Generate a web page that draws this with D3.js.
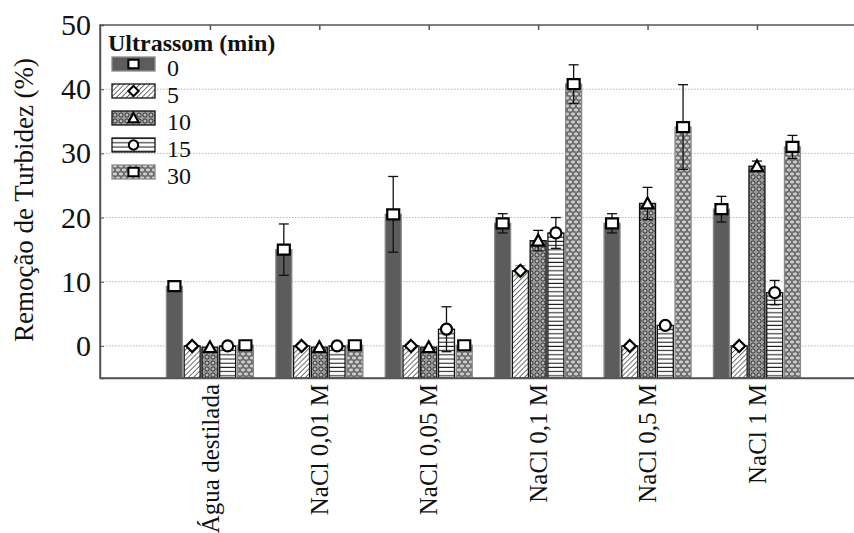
<!DOCTYPE html>
<html>
<head>
<meta charset="utf-8">
<script src="https://cdn.jsdelivr.net/npm/d3@7"></script>
<style>
  body { margin: 0; background: #fff; }
  svg { display: block; }
</style>
</head>
<body>
<svg id="chart"></svg>
<script>
// data
var categories = ["Água destilada", "NaCl 0,01 M", "NaCl 0,05 M", "NaCl 0,1 M", "NaCl 0,5 M", "NaCl 1 M"];
var series = ["0", "5", "10", "15", "30"];

var val0 = [9.3, 15.0, 20.5, 19.1, 19.1, 21.3];
var val5 = [0, 0, 0, 11.7, 0, 0];
var val10 = [-0.2, -0.2, -0.2, 16.4, 22.2, 28.0];
var val15 = [0, 0, 2.6, 17.6, 3.2, 8.3];
var val30 = [0.1, 0.1, 0.1, 40.8, 34.1, 31.0];

var err0 = [0, 4.0, 5.9, 1.5, 1.5, 2.0];
var err5 = [0, 0, 0, 0.8, 0, 0];
var err10 = [0, 0, 0, 1.6, 2.5, 0.8];
var err15 = [0, 0, 3.5, 2.4, 0, 1.9];
var err30 = [0, 0, 0, 3.0, 6.6, 1.8];

var yTicks = [0, 10, 20, 30, 40, 50];

var values = [val0, val5, val10, val15, val30];
var errors = [err0, err5, err10, err15, err30];

var W = 854, H = 533;
var mLeft = 100, mRight = 856, mTop = 25, mBottom = 378;
var FONT = "'Times New Roman', 'Liberation Serif', Tinos, 'Nimbus Roman', 'DejaVu Serif', serif";

var svg = d3.select("#chart").attr("width", W).attr("height", H)
    .style("font-family", FONT);

var defs = svg.append("defs");

// 5 min: diagonal hatch
var p5 = defs.append("pattern").attr("id", "pat5").attr("patternUnits", "userSpaceOnUse")
    .attr("width", 3.6).attr("height", 3.6).attr("patternTransform", "rotate(45)");
p5.append("rect").attr("width", 3.6).attr("height", 3.6).attr("fill", "#fff");
p5.append("line").attr("x1", 0).attr("y1", 0).attr("x2", 0).attr("y2", 3.6)
    .attr("stroke", "#222").attr("stroke-width", 1.3);

// 10 min: small rings
var p10 = defs.append("pattern").attr("id", "pat10").attr("patternUnits", "userSpaceOnUse")
    .attr("width", 6).attr("height", 6);
p10.append("rect").attr("width", 6).attr("height", 6).attr("fill", "#9a9a9a");
p10.append("circle").attr("cx", 3).attr("cy", 3).attr("r", 2).attr("fill", "#fff")
    .attr("stroke", "#111").attr("stroke-width", 0.9);
p10.append("circle").attr("cx", 3).attr("cy", 3).attr("r", 0.7).attr("fill", "#444");

// 15 min: horizontal lines
var p15 = defs.append("pattern").attr("id", "pat15").attr("patternUnits", "userSpaceOnUse")
    .attr("width", 4).attr("height", 4.2);
p15.append("rect").attr("width", 4).attr("height", 4.2).attr("fill", "#fff");
p15.append("line").attr("x1", 0).attr("y1", 2).attr("x2", 4).attr("y2", 2)
    .attr("stroke", "#222").attr("stroke-width", 1.1);

// 30 min: grey cells
var p30 = defs.append("pattern").attr("id", "pat30").attr("patternUnits", "userSpaceOnUse")
    .attr("width", 6).attr("height", 8);
p30.append("rect").attr("width", 6).attr("height", 8).attr("fill", "#6e6e6e");
p30.append("ellipse").attr("cx", 3).attr("cy", 2).attr("rx", 2.1).attr("ry", 1.4).attr("fill", "#d0d0d0");
p30.append("ellipse").attr("cx", 0).attr("cy", 6).attr("rx", 2.1).attr("ry", 1.4).attr("fill", "#d0d0d0");
p30.append("ellipse").attr("cx", 6).attr("cy", 6).attr("rx", 2.1).attr("ry", 1.4).attr("fill", "#d0d0d0");

var fills = ["#5c5c5c", "url(#pat5)", "url(#pat10)", "url(#pat15)", "url(#pat30)"];
var strokes = ["#8a8a8a", "#111", "#111", "#111", "#8a8a8a"];
var shapes = ["square", "diamond", "triangle", "circle", "square"];

var yScale = d3.scaleLinear().domain([-5, 50]).range([mBottom, mTop]);
var xScale = d3.scalePoint().domain(categories).range([mLeft, mRight]).padding(0.955).align(0.526);
var inner = d3.scaleBand().domain(series).range([-43.5, 43.5]).paddingInner(0.1);

// grid
svg.append("g").selectAll("line")
    .data(yTicks.filter(function(d) { return d < 50; }))
    .enter().append("line")
    .attr("x1", mLeft).attr("x2", mRight)
    .attr("y1", function(d) { return yScale(d); })
    .attr("y2", function(d) { return yScale(d); })
    .attr("stroke", "#b5b5b5").attr("stroke-width", 1)
    .attr("stroke-dasharray", "1.5,1.5");

// bars
var groups = svg.append("g").selectAll("g")
    .data(series).enter().append("g");

groups.each(function(s, si) {
    var g = d3.select(this);
    var rows = categories.map(function(c, ci) {
        return { cat: c, ci: ci, v: values[si][ci], e: errors[si][ci] };
    });
    g.selectAll("rect").data(rows).enter().append("rect")
        .attr("x", function(d) { return xScale(d.cat) + inner(s); })
        .attr("width", inner.bandwidth())
        .attr("y", function(d) { return yScale(d.v); })
        .attr("height", function(d) { return yScale(-5) - yScale(d.v); })
        .attr("fill", fills[si])
        .attr("stroke", strokes[si]).attr("stroke-width", 1.3);
});

// error bars
groups.each(function(s, si) {
    var g = d3.select(this).append("g");
    var rows = categories.map(function(c, ci) {
        return { cat: c, ci: ci, v: values[si][ci], e: errors[si][ci] };
    }).filter(function(d) { return d.e > 0; });
    var cx = function(d) { return xScale(d.cat) + inner(s) + inner.bandwidth() / 2; };
    var col = function(d) { return (si === 1 && d.ci === 3) ? "#58a848" : "#111"; };
    var eb = g.selectAll("g").data(rows).enter().append("g");
    eb.append("line")
        .attr("x1", cx).attr("x2", cx)
        .attr("y1", function(d) { return yScale(d.v - d.e); })
        .attr("y2", function(d) { return yScale(d.v + d.e); })
        .attr("stroke", "#111").attr("stroke-width", 1.3);
    [-1, 1].forEach(function(sg) {
        eb.append("line")
            .attr("x1", function(d) { return cx(d) - 5; })
            .attr("x2", function(d) { return cx(d) + 5; })
            .attr("y1", function(d) { return yScale(d.v + sg * d.e); })
            .attr("y2", function(d) { return yScale(d.v + sg * d.e); })
            .attr("stroke", col).attr("stroke-width", 1.3);
    });
});

function markerPath(shape) {
    if (shape === "square") return "M-6,-5H6V5H-6Z";
    if (shape === "diamond") return "M0,-6L6,0L0,6L-6,0Z";
    if (shape === "triangle") return "M0,-6L6,5H-6Z";
    return d3.symbol().type(d3.symbolCircle).size(95)();
}

// markers
groups.each(function(s, si) {
    var rows = categories.map(function(c, ci) {
        return { cat: c, v: values[si][ci] };
    });
    d3.select(this).append("g").selectAll("path").data(rows).enter().append("path")
        .attr("d", markerPath(shapes[si]))
        .attr("transform", function(d) {
            return "translate(" + (xScale(d.cat) + inner(s) + inner.bandwidth() / 2) + "," + yScale(d.v) + ")";
        })
        .attr("fill", "#fff").attr("stroke", "#000").attr("stroke-width", 2.2);
});

// frame
svg.append("rect").attr("x", mLeft).attr("y", mTop)
    .attr("width", mRight - mLeft).attr("height", mBottom - mTop)
    .attr("fill", "none").attr("stroke", "#555").attr("stroke-width", 1.5);

// y axis
var yAxis = d3.axisLeft(yScale).tickValues(yTicks).tickSize(-4).tickPadding(9);
var ya = svg.append("g").attr("transform", "translate(" + mLeft + ",0)").call(yAxis);
ya.attr("font-family", FONT);
ya.select(".domain").attr("stroke", "#555").attr("stroke-width", 1.5);
ya.selectAll(".tick line").attr("stroke", "#555");
ya.selectAll(".tick text")
    .style("font-family", FONT).style("font-size", "30px")
    .attr("fill", "#111");

// top ticks
var xTop = d3.axisTop(xScale).tickSize(-5).tickFormat("");
var xt = svg.append("g").attr("transform", "translate(0," + mTop + ")").call(xTop);
xt.select(".domain").remove();
xt.selectAll(".tick line").attr("stroke", "#555").attr("stroke-width", 1.5);

// bottom labels
var xBottom = d3.axisBottom(xScale).tickSize(0);
var xb = svg.append("g").attr("transform", "translate(0," + mBottom + ")").call(xBottom);
xb.attr("font-family", FONT);
xb.select(".domain").attr("stroke", "#555").attr("stroke-width", 1.5);
xb.selectAll(".tick text")
    .attr("transform", "rotate(-90)")
    .attr("text-anchor", "end")
    .attr("x", -6).attr("y", 0).attr("dy", "0.33em")
    .style("font-family", FONT).style("font-size", "25px")
    .attr("fill", "#111");

// y title
svg.append("text")
    .attr("transform", "translate(33,200) rotate(-90)")
    .attr("text-anchor", "middle")
    .style("font-family", FONT).style("font-size", "27px")
    .attr("fill", "#111")
    .text("Remoção de Turbidez (%)");

// legend
var leg = svg.append("g");
leg.append("text").attr("x", 108).attr("y", 51)
    .style("font-family", FONT).style("font-size", "24px").style("font-weight", "bold").attr("fill", "#111")
    .text("Ultrassom (min)");
var li = leg.selectAll("g.li").data(series).enter().append("g").attr("class", "li")
    .attr("transform", function(d, i) { return "translate(112," + (64 + i * 27) + ")"; });
li.append("rect").attr("x", 0).attr("y", -7).attr("width", 43).attr("height", 14)
    .attr("fill", function(d, i) { return fills[i]; })
    .attr("stroke", function(d, i) { return strokes[i]; }).attr("stroke-width", 1.3);
li.append("path")
    .attr("d", function(d, i) { return markerPath(shapes[i]); })
    .attr("transform", "translate(21.5,0) scale(0.85)")
    .attr("fill", "#fff").attr("stroke", "#000").attr("stroke-width", 2.4);
li.append("text").attr("x", 55).attr("y", 12)
    .style("font-family", FONT).style("font-size", "24px").attr("fill", "#111")
    .text(function(d) { return d; });
</script>
</body>
</html>
